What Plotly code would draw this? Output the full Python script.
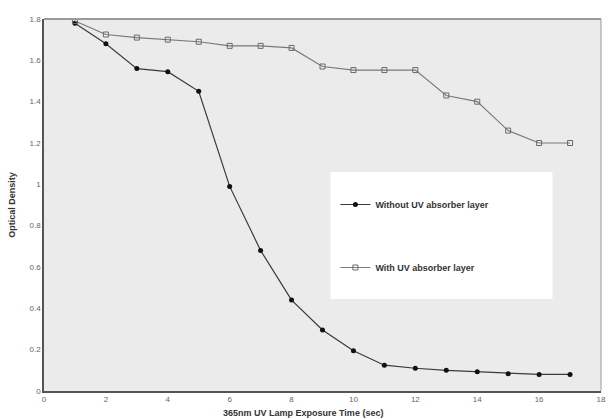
import plotly.graph_objects as go

time_sec = [1, 2, 3, 4, 5, 6, 7, 8, 9, 10, 11, 12, 13, 14, 15, 16, 17]
without_uv = [1.78, 1.68, 1.56, 1.545, 1.45, 0.99, 0.68, 0.44, 0.295, 0.195, 0.125, 0.11, 0.10, 0.093, 0.084, 0.08, 0.08]
with_uv = [1.79, 1.725, 1.71, 1.70, 1.69, 1.67, 1.67, 1.66, 1.57, 1.553, 1.553, 1.553, 1.43, 1.40, 1.26, 1.20, 1.20]
y_ticks = [0, 0.2, 0.4, 0.6, 0.8, 1, 1.2, 1.4, 1.6, 1.8]
y_tick_labels = ["0", "0.2", "0.4", "0.6", "0.8", "1", "1.2", "1.4", "1.6", "1.8"]
x_ticks = [0, 2, 4, 6, 8, 10, 12, 14, 16, 18]

fig = go.Figure()
fig.add_trace(go.Scatter(
    x=time_sec, y=without_uv, mode="lines+markers",
    name="<b>Without UV absorber layer</b>", legendgroup="a",
    line=dict(color="#3a3a3a", width=1.2),
    marker=dict(symbol="circle", size=5, color="#111111"),
))
fig.add_trace(go.Scatter(
    x=time_sec, y=with_uv, mode="lines+markers",
    name="<b>With UV absorber layer</b>", legendgroup="b",
    line=dict(color="#7a7a7a", width=1.2),
    marker=dict(symbol="square-open", size=5, color="#6a6a6a", line=dict(width=1)),
))

L, R, T, B = 44, 7, 19, 28
W = 613 - L - R
H = 419 - T - B
bottom = 419 - B

# legend box
fig.add_shape(type="rect", xref="paper", yref="paper",
              x0=(333 - L) / W, x1=(557 - L) / W,
              y0=(bottom - 299) / H, y1=(bottom - 172) / H,
              fillcolor="white", line=dict(width=0), layer="above")
# frame top/right
fig.add_shape(type="line", xref="paper", yref="paper", x0=0, x1=1, y0=1, y1=1,
              line=dict(color="#9a9a9a", width=2))
fig.add_shape(type="line", xref="paper", yref="paper", x0=1, x1=1, y0=0, y1=1,
              line=dict(color="#9a9a9a", width=1))

fig.update_layout(
    width=613, height=419,
    margin=dict(l=L, r=R, t=T, b=B),
    paper_bgcolor="white",
    plot_bgcolor="#ebebeb",
    font=dict(family="Liberation Sans, Arial, sans-serif", size=8, color="#555555"),
    showlegend=True,
    legend=dict(
        x=(338 - L) / W, y=(bottom - 190) / H, xanchor="left", yanchor="top",
        bgcolor="rgba(0,0,0,0)", borderwidth=0,
        tracegroupgap=44, traceorder="grouped",
        font=dict(size=9, color="#333333", family="Liberation Sans, Arial, sans-serif"),
    ),
    xaxis=dict(
        range=[0, 18], tickvals=x_ticks, showgrid=False, zeroline=False,
        showline=True, linecolor="#555555", linewidth=1.5,
        ticks="", tickfont=dict(size=8, color="#666666"),
    ),
    yaxis=dict(
        range=[0, 1.8], tickvals=y_ticks, ticktext=y_tick_labels,
        showgrid=False, zeroline=False,
        showline=True, linecolor="#555555", linewidth=1.5,
        ticks="", tickfont=dict(size=8, color="#666666"),
        title=dict(text="<b>Optical Density</b>", font=dict(size=9, color="#333333"), standoff=12),
    ),
)
fig.add_annotation(
    text="<b>365nm UV Lamp Exposure Time (sec)</b>", xref="paper", yref="paper",
    x=(305 - L) / W, y=0, yshift=-15, yanchor="top", showarrow=False,
    font=dict(size=9, color="#333333"),
)

fig.write_html("out.html", config={"displayModeBar": False},
               post_script="document.body.style.margin='0';document.body.style.overflow='hidden';")
